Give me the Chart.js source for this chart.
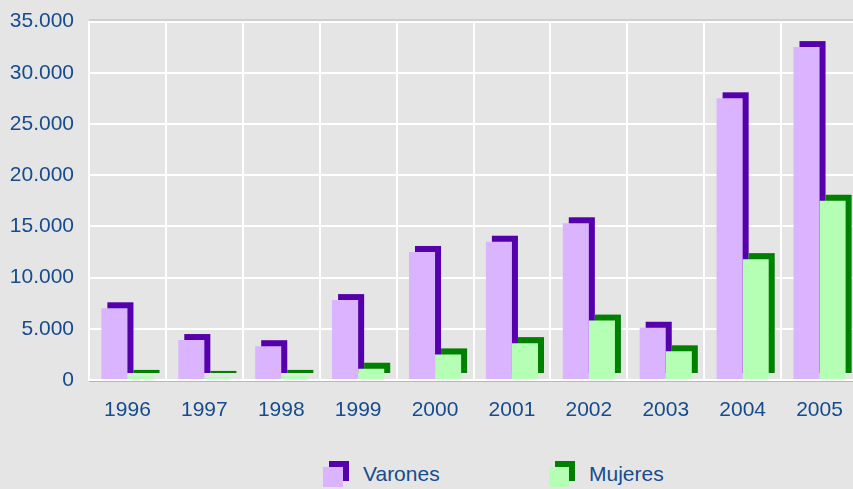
<!DOCTYPE html>
<html>
<head>
<meta charset="utf-8">
<script src="https://cdn.jsdelivr.net/npm/chart.js@4/dist/chart.umd.min.js"></script>
<style>
  html, body { margin: 0; padding: 0; background: #e5e5e5; overflow: hidden; width: 853px; height: 489px; }
  #wrap { position: relative; width: 858px; height: 489px; }
  #c { position: absolute; left: 0; top: 0; }
  .leg { position: absolute; top: 460px; height: 28px; font-family: "Liberation Sans", Arial, sans-serif; font-size: 21px; color: #164c8c; }
  .leg .box { position: absolute; left: 0; top: 7px; width: 20px; height: 20px; }
  .leg .txt { position: absolute; left: 40px; top: 2px; white-space: nowrap; }
</style>
</head>
<body>
<div id="wrap">
  <canvas id="c" width="858" height="440"></canvas>
  <div id="legend"></div>
</div>
<script>
const categories = ['1996','1997','1998','1999','2000','2001','2002','2003','2004','2005'];
const varones = [7000, 3900, 3300, 7800, 12500, 13500, 15300, 5100, 27500, 32500];
const mujeres = [400, 300, 400, 1100, 2500, 3600, 5800, 2800, 11800, 17500];
const seriesNames = ['Varones', 'Mujeres'];
const yTickLabels = ['0', '5.000', '10.000', '15.000', '20.000', '25.000', '30.000', '35.000'];

const lightColors = ['#dab4ff', '#b4ffb4'];
const darkColors = ['#5500aa', '#008000'];
const textColor = '#164c8c';
const fontFamily = '"Liberation Sans", Arial, sans-serif';
const SHADOW = 6;

const shadowPlugin = {
  id: 'shadowBars',
  beforeDatasetsDraw(chart) {
    const ctx = chart.ctx;
    const a = chart.chartArea;
    ctx.save();
    ctx.strokeStyle = '#b8b8b8';
    ctx.lineWidth = 1;
    ctx.beginPath();
    ctx.moveTo(a.left, a.top - 1.5); ctx.lineTo(a.right, a.top - 1.5);
    ctx.moveTo(a.left, a.bottom + 1.5); ctx.lineTo(a.right, a.bottom + 1.5);
    ctx.stroke();
    chart.data.datasets.forEach((ds, i) => {
      const meta = chart.getDatasetMeta(i);
      ctx.fillStyle = darkColors[i];
      meta.data.forEach(bar => {
        const p = bar.getProps(['x', 'y', 'base', 'width'], true);
        const left = p.x - p.width / 2 + SHADOW;
        const top = Math.min(p.y, p.base) - SHADOW;
        const h = Math.abs(p.base - p.y);
        ctx.fillRect(left, top, p.width, h);
      });
    });
    ctx.restore();
  }
};

new Chart(document.getElementById('c'), {
  type: 'bar',
  data: {
    labels: categories,
    datasets: [
      { label: seriesNames[0], data: varones, backgroundColor: lightColors[0], borderWidth: 0 },
      { label: seriesNames[1], data: mujeres, backgroundColor: lightColors[1], borderWidth: 0 }
    ]
  },
  options: {
    responsive: false,
    animation: false,
    layout: { padding: { top: 21.5, right: 0, bottom: 0, left: 0 } },
    datasets: { bar: { categoryPercentage: 0.678, barPercentage: 1.0 } },
    plugins: { legend: { display: false }, tooltip: { enabled: false } },
    scales: {
      x: {
        offset: true,
        grid: { color: '#ffffff', lineWidth: 2, offset: true, drawTicks: false },
        border: { color: '#ffffff', width: 2 },
        ticks: { color: textColor, font: { family: fontFamily, size: 21 }, padding: 18, maxRotation: 0 },
        afterFit(s) { s.height = 60; s.paddingLeft = 0; s.paddingRight = 0; }
      },
      y: {
        min: 0, max: 35000,
        grid: { color: '#ffffff', lineWidth: 2, drawTicks: false },
        border: { color: '#ffffff', width: 2 },
        ticks: {
          stepSize: 5000,
          color: textColor,
          font: { family: fontFamily, size: 21 },
          padding: 15,
          callback: (v, i) => yTickLabels[i]
        },
        afterFit(s) { s.width = 89; s.paddingTop = 0; s.paddingBottom = 0; }
      }
    }
  },
  plugins: [shadowPlugin]
});

const legend = document.getElementById('legend');
const legendLeft = [323, 549];
seriesNames.forEach((name, i) => {
  const item = document.createElement('div');
  item.className = 'leg';
  item.style.left = legendLeft[i] + 'px';
  const box = document.createElement('div');
  box.className = 'box';
  box.style.background = lightColors[i];
  box.style.boxShadow = SHADOW + 'px ' + (-SHADOW) + 'px 0 ' + darkColors[i];
  const txt = document.createElement('span');
  txt.className = 'txt';
  txt.textContent = name;
  item.appendChild(box);
  item.appendChild(txt);
  legend.appendChild(item);
});
</script>
</body>
</html>
